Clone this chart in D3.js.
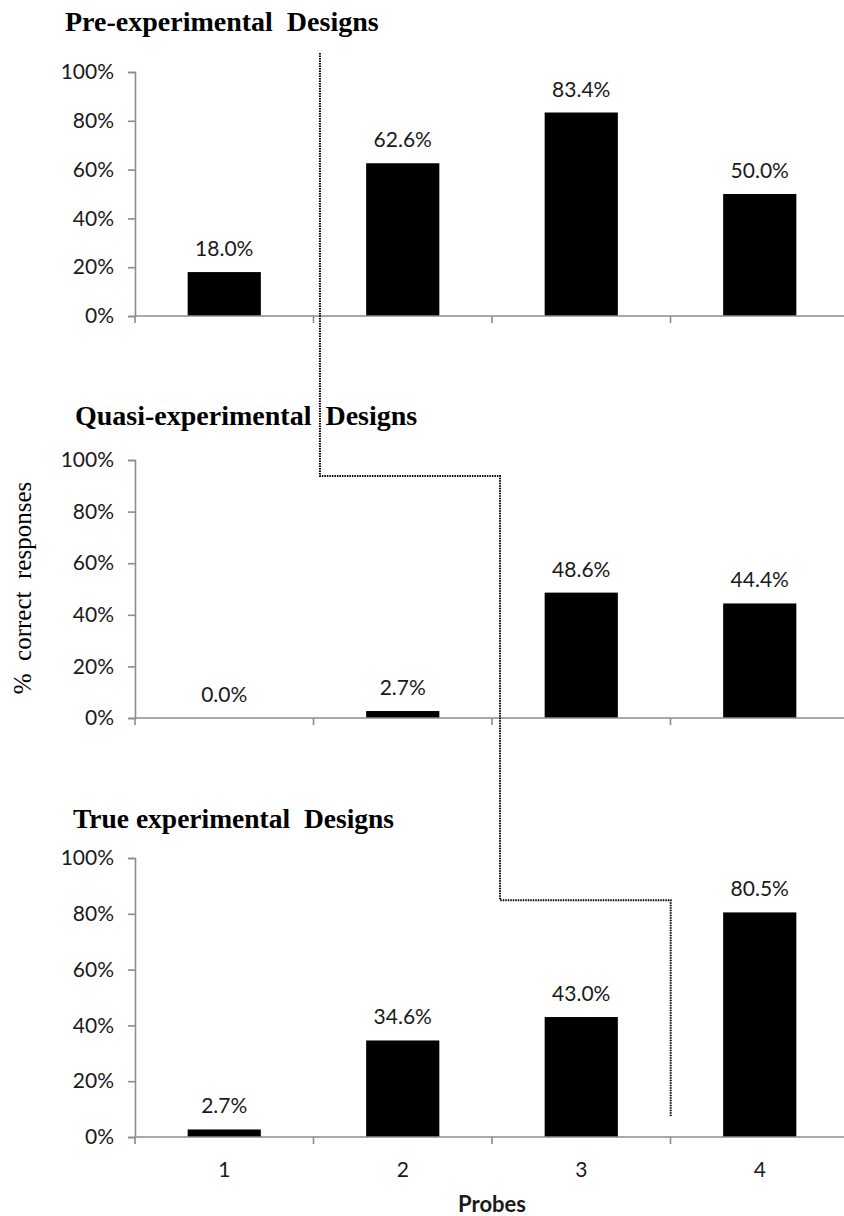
<!DOCTYPE html>
<html>
<head>
<meta charset="utf-8">
<script src="https://cdn.jsdelivr.net/npm/d3@7"></script>
<style>
  body { margin: 0; background: #fff; }
  svg { display: block; }
</style>
</head>
<body>
<div id="chart"></div>
<script>
// data
const probes = ['1', '2', '3', '4'];
const panelTitles = ['Pre-experimental  Designs', 'Quasi-experimental  Designs', 'True experimental  Designs'];
const preValues = [18.0, 62.6, 83.4, 50.0];
const quasiValues = [0.0, 2.7, 48.6, 44.4];
const trueValues = [2.7, 34.6, 43.0, 80.5];
const yTicks = [0, 20, 40, 60, 80, 100];
// dotted step line: [panel, probe position, value %]
const stepLine = [
  [0, 1.536, 107.8],
  [1, 1.536, 93.8],
  [1, 2.545, 93.8],
  [2, 2.545, 84.9],
  [2, 3.501, 84.9],
  [2, 3.501, 7.5]
];

const width = 844, height = 1216;
const axisColor = '#8c8c8c';
const sans = 'Lato, "Open Sans", sans-serif';
const serif = '"Liberation Serif", "Times New Roman", serif';

const svg = d3.select('#chart').append('svg')
  .attr('width', width)
  .attr('height', height);

// panel layout (pixel rows for 0% and 100%)
const panels = [
  { title: panelTitles[0], values: preValues, top: 72, bottom: 316, titleX: 65, titleY: 31 },
  { title: panelTitles[1], values: quasiValues, top: 460, bottom: 718, titleX: 75, titleY: 425 },
  { title: panelTitles[2], values: trueValues, top: 858, bottom: 1137, titleX: 73, titleY: 828 }
];

const x0 = 135, x1 = 849;
const x = d3.scaleBand().domain(probes).range([x0, x1]).paddingInner(0.59).paddingOuter(0.295);
const xPos = d3.scaleLinear().domain([0.5, 4.5]).range([x0, x1]);

panels.forEach((p, pi) => {
  p.y = d3.scaleLinear().domain([0, 100]).range([p.bottom, p.top]);
  const g = svg.append('g');

  // title
  g.append('text')
    .attr('x', p.titleX)
    .attr('y', p.titleY)
    .style('font-family', serif)
    .style('font-weight', 'bold')
    .style('font-size', pi === 2 ? '27.5px' : '28px')
    .style('white-space', 'pre')
    .text(p.title);

  // y axis
  const yAxis = d3.axisLeft(p.y).tickValues(yTicks).tickSize(7).tickPadding(14)
    .tickFormat(d => d + '%');
  const ya = g.append('g').attr('transform', `translate(${x0},0)`).call(yAxis);
  ya.select('.domain').attr('stroke', axisColor).attr('stroke-width', 1.6);
  ya.selectAll('.tick line').attr('stroke', axisColor).attr('stroke-width', 1.6);
  ya.selectAll('.tick text')
    .style('font-family', sans)
    .style('font-size', '21px')
    .attr('fill', '#1a1a1a');

  // bars
  g.selectAll('.bar')
    .data(p.values)
    .enter()
    .append('rect')
    .attr('x', (_, i) => x(probes[i]))
    .attr('y', d => p.y(d))
    .attr('width', x.bandwidth())
    .attr('height', d => p.y(0) - p.y(d))
    .attr('fill', '#000');

  // value labels
  g.selectAll('.lbl')
    .data(p.values)
    .enter()
    .append('text')
    .attr('x', (_, i) => x(probes[i]) + x.bandwidth() / 2)
    .attr('y', d => p.y(d) - 16)
    .attr('text-anchor', 'middle')
    .style('font-family', sans)
    .style('font-size', '21px')
    .attr('fill', '#1a1a1a')
    .text(d => d.toFixed(1) + '%');

  // x axis line with boundary ticks
  g.append('line')
    .attr('x1', x0).attr('x2', x1)
    .attr('y1', p.y(0)).attr('y2', p.y(0))
    .attr('stroke', axisColor).attr('stroke-width', 1.6);
  const bounds = d3.range(0, probes.length + 1).map(i => xPos(i + 0.5));
  g.selectAll('.bt')
    .data(bounds)
    .enter()
    .append('line')
    .attr('x1', d => d).attr('x2', d => d)
    .attr('y1', p.y(0)).attr('y2', p.y(0) + 7)
    .attr('stroke', axisColor).attr('stroke-width', 1.6);

  if (pi === 2) {
    g.selectAll('.xl')
      .data(probes)
      .enter()
      .append('text')
      .attr('x', d => x(d) + x.bandwidth() / 2)
      .attr('y', 1177)
      .attr('text-anchor', 'middle')
      .style('font-family', sans)
      .style('font-size', '21px')
      .attr('fill', '#1a1a1a')
      .text(d => d);
  }
});

// x axis title
svg.append('text')
  .attr('x', xPos(2.5))
  .attr('y', 1212)
  .attr('text-anchor', 'middle')
  .style('font-family', sans)
  .style('font-weight', 'bold')
  .style('font-size', '22px')
  .attr('fill', '#1a1a1a')
  .text('Probes');

// y axis title
svg.append('text')
  .attr('transform', 'translate(31,588) rotate(-90)')
  .attr('text-anchor', 'middle')
  .style('font-family', serif)
  .style('font-size', '25px')
  .style('white-space', 'pre')
  .text('%  correct  responses');

// dotted step line
const stepPath = d3.line()
  .x(d => xPos(d[1]))
  .y(d => panels[d[0]].y(d[2]));
svg.append('path')
  .datum(stepLine)
  .attr('d', stepPath)
  .attr('fill', 'none')
  .attr('stroke', '#000')
  .attr('stroke-width', 2)
  .attr('stroke-dasharray', '1.5,1');
</script>
</body>
</html>
